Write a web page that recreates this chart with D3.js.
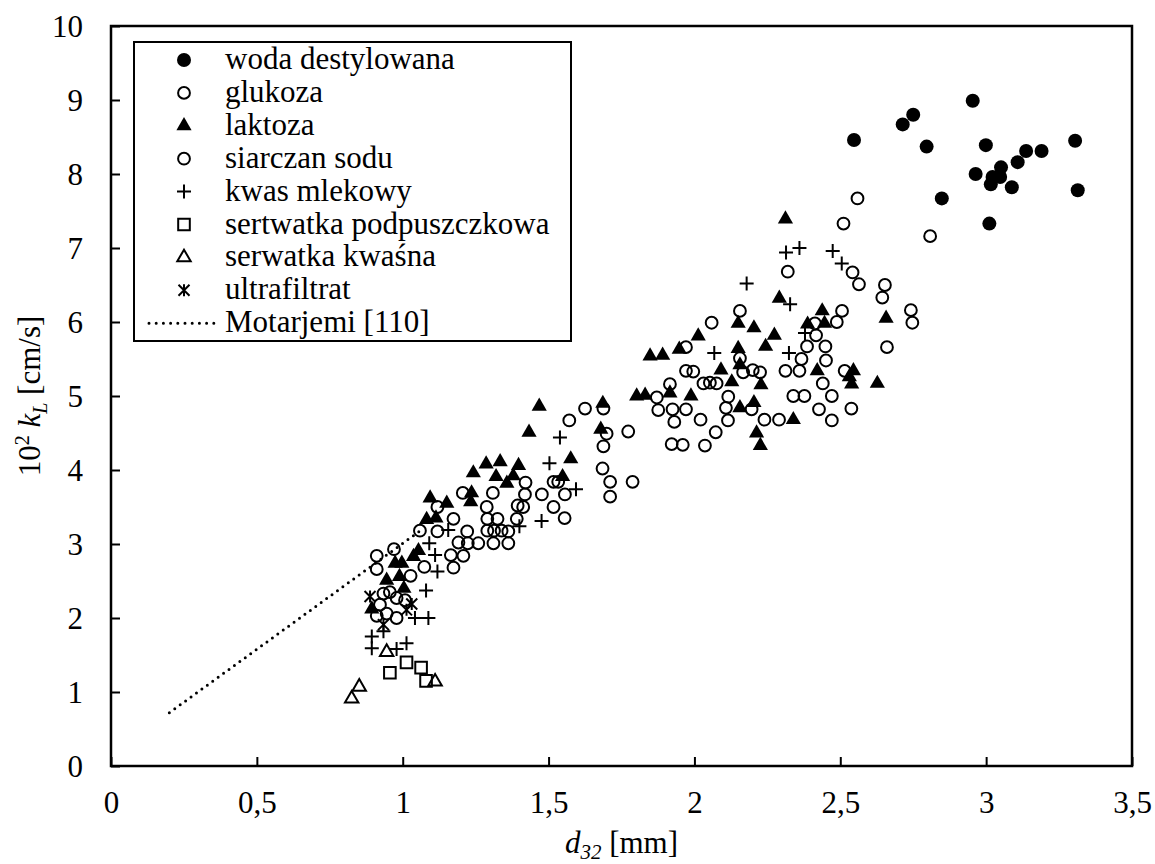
<!DOCTYPE html>
<html><head><meta charset="utf-8">
<script src="https://cdn.jsdelivr.net/npm/d3@7/dist/d3.min.js"></script>
<style>body{margin:0;background:#fff;} svg{display:block;}</style>
</head><body>
<svg id="chart" width="1155" height="864"></svg>
<script>
// ---- data ----
const xTicks = [0, 0.5, 1, 1.5, 2, 2.5, 3, 3.5];
const yTicks = [0, 1, 2, 3, 4, 5, 6, 7, 8, 9, 10];
const legendLabels = ["woda destylowana","glukoza","laktoza","siarczan sodu","kwas mlekowy","sertwatka podpuszczkowa","serwatka kwaśna","ultrafiltrat","Motarjemi [110]"];

const woda = [[2.547,8.46],[2.750,8.80],[2.714,8.67],[2.796,8.37],[2.954,8.99],[2.999,8.39],[2.964,8.00],[3.051,8.09],[3.022,7.96],[3.048,7.96],[3.016,7.86],[3.088,7.82],[3.108,8.16],[3.137,8.31],[3.190,8.31],[3.305,8.45],[3.314,7.78],[2.848,7.67],[3.011,7.33]];

const glukoza = [[1.625,4.83],[1.688,4.83],[1.571,4.67],[1.699,4.49],[1.773,4.52],[1.688,4.32],[1.685,4.02],[1.711,3.84],[1.788,3.84],[1.711,3.64],[1.517,3.84],[1.533,3.84],[1.556,3.67],[1.477,3.67],[1.517,3.50],[1.555,3.35],[1.421,3.83],[1.206,3.69],[1.309,3.69],[1.419,3.67],[1.394,3.52],[1.413,3.50],[1.288,3.50],[1.290,3.34],[1.325,3.34],[1.391,3.34],[1.290,3.18],[1.313,3.18],[1.339,3.18],[1.362,3.17],[1.221,3.17],[1.191,3.02],[1.223,3.01],[1.259,3.01],[1.311,3.01],[1.362,3.01],[1.174,3.34],[1.119,3.50],[1.059,3.18],[1.119,3.17],[1.165,2.85],[1.208,2.84],[1.174,2.68],[1.074,2.69],[0.970,2.93],[0.911,2.84],[0.911,2.66],[1.027,2.57],[0.934,2.33],[0.956,2.35],[0.979,2.27],[1.008,2.24],[0.922,2.18],[0.945,2.06],[0.911,2.03],[0.979,2.00]];

const laktoza = [[2.312,7.39],[2.291,6.32],[2.150,5.98],[2.204,5.92],[2.013,5.81],[2.274,5.82],[2.438,6.15],[2.388,5.97],[2.446,5.98],[2.657,6.05],[2.244,5.67],[2.150,5.64],[2.091,5.35],[2.156,5.42],[2.421,5.34],[2.545,5.34],[2.531,5.26],[2.539,5.16],[2.627,5.17],[2.128,5.19],[2.228,5.15],[1.988,5.00],[2.156,4.84],[2.204,4.91],[2.339,4.68],[2.213,4.50],[2.226,4.33],[1.848,5.54],[1.891,5.55],[1.948,5.63],[1.916,5.04],[1.802,5.00],[1.831,5.01],[1.468,4.86],[1.686,4.90],[1.433,4.51],[1.679,4.55],[1.576,4.15],[1.548,3.91],[1.286,4.08],[1.334,4.11],[1.397,4.06],[1.242,3.96],[1.320,3.91],[1.379,3.92],[1.357,3.82],[1.236,3.69],[1.233,3.57],[1.094,3.62],[1.151,3.55],[1.082,3.33],[1.114,3.35],[1.054,2.91],[1.037,2.83],[0.974,2.74],[0.997,2.74],[0.989,2.56],[0.945,2.51],[1.004,2.40],[0.894,2.12]];

const siarczan = [[2.559,7.67],[2.511,7.33],[2.808,7.16],[2.320,6.68],[2.542,6.67],[2.564,6.51],[2.653,6.50],[2.644,6.33],[2.742,6.16],[2.747,5.99],[2.660,5.66],[2.156,6.15],[2.059,5.99],[2.506,6.15],[2.413,5.98],[2.488,6.00],[2.417,5.82],[2.156,5.51],[1.971,5.66],[2.386,5.67],[2.449,5.67],[2.367,5.50],[2.451,5.48],[1.971,5.34],[1.996,5.33],[2.167,5.32],[2.200,5.35],[2.225,5.32],[2.312,5.34],[2.360,5.34],[2.515,5.34],[2.031,5.17],[2.053,5.18],[2.076,5.17],[2.440,5.17],[2.116,4.99],[2.339,5.00],[2.377,5.00],[2.471,5.00],[1.971,4.82],[2.108,4.84],[2.196,4.82],[2.427,4.82],[2.538,4.83],[2.021,4.68],[2.115,4.67],[2.240,4.68],[2.290,4.68],[2.471,4.67],[2.073,4.51],[1.960,4.34],[2.036,4.33],[1.916,5.16],[1.871,4.98],[1.876,4.81],[1.925,4.82],[1.931,4.65],[1.922,4.35]];

const kwas = [[2.314,6.94],[2.360,7.00],[2.474,6.96],[2.505,6.79],[2.179,6.52],[2.328,6.24],[2.379,5.85],[2.068,5.58],[2.324,5.58],[1.539,4.44],[1.503,4.09],[1.594,3.74],[1.476,3.31],[1.400,3.24],[1.156,3.19],[1.091,3.01],[1.111,2.85],[1.119,2.63],[1.080,2.37],[1.042,2.00],[1.088,2.00],[0.934,1.82],[0.894,1.75],[0.894,1.59],[0.979,1.58],[1.013,1.66]];

const sertwatka = [[0.956,1.26],[1.013,1.40],[1.063,1.33],[1.080,1.15]];
const serwatka = [[0.945,1.54],[1.111,1.14],[0.851,1.07],[0.825,0.91]];
const ultrafiltrat = [[0.888,2.29],[1.031,2.19],[1.013,2.11],[0.934,1.91]];
const motarjemi = [[0.2,0.72],[1.06,3.18]];

// ---- drawing ----
const FONT = "'Liberation Serif','Times New Roman',serif";
const svg = d3.select("#chart");
const x = d3.scaleLinear().domain([0, 3.5]).range([111, 1132]);
const y = d3.scaleLinear().domain([0, 10]).range([766, 26]);
const fmt = d => String(d).replace('.', ',');

// axes
const gx = svg.append("g").attr("transform", `translate(0,${y(0)})`)
  .call(d3.axisBottom(x).tickValues(xTicks).tickFormat(fmt).tickSizeInner(-9).tickSizeOuter(0));
gx.select(".domain").remove();
gx.selectAll(".tick line").attr("stroke", "#000").attr("stroke-width", 2);
gx.selectAll(".tick text").attr("y", 47).attr("dy", 0).attr("font-family", FONT).attr("font-size", 31).attr("fill", "#000");

const gy = svg.append("g").attr("transform", `translate(${x(0)},0)`)
  .call(d3.axisLeft(y).tickValues(yTicks).tickFormat(fmt).tickSizeInner(-9).tickSizeOuter(0));
gy.select(".domain").remove();
gy.selectAll(".tick line").attr("stroke", "#000").attr("stroke-width", 2);
gy.selectAll(".tick text").attr("x", -28).attr("dy", "0.35em").attr("font-family", FONT).attr("font-size", 31).attr("fill", "#000");

// frame
svg.append("rect").attr("x", x(0)).attr("y", y(10)).attr("width", x(3.5) - x(0)).attr("height", y(0) - y(10))
  .attr("fill", "none").attr("stroke", "#000").attr("stroke-width", 2.5);

// axis titles
const xt = svg.append("text").attr("x", (x(0) + x(3.5)) / 2).attr("y", 853).attr("text-anchor", "middle")
  .attr("font-family", FONT).attr("font-size", 31).attr("fill", "#000");
xt.append("tspan").attr("font-style", "italic").text("d");
xt.append("tspan").attr("font-style", "italic").attr("font-size", 21).attr("dy", 6).text("32");
xt.append("tspan").attr("dy", -6).text(" [mm]");

const yt = svg.append("text").attr("transform", `translate(40,${(y(0) + y(10)) / 2}) rotate(-90)`)
  .attr("text-anchor", "middle").attr("font-family", FONT).attr("font-size", 31).attr("fill", "#000");
yt.append("tspan").text("10");
yt.append("tspan").attr("font-size", 20).attr("dy", -11).text("2");
yt.append("tspan").attr("dy", 11).text(" ");
yt.append("tspan").attr("font-style", "italic").text("k");
yt.append("tspan").attr("font-style", "italic").attr("font-size", 20).attr("dy", 7).text("L");
yt.append("tspan").attr("dy", -7).text(" [cm/s]");

// marker drawers
const markers = {
  filledCircle: g => g.append("circle").attr("r", 7).attr("fill", "#000"),
  openCircle: g => g.append("circle").attr("r", 5.9).attr("fill", "none").attr("stroke", "#000").attr("stroke-width", 2),
  filledTri: g => g.append("path").attr("d", d3.symbol(d3.symbolTriangle, 100)()).attr("fill", "#000"),
  plus: g => g.append("path").attr("d", "M-7,0H7M0,-7V7").attr("stroke", "#000").attr("stroke-width", 2).attr("fill", "none"),
  square: g => g.append("path").attr("d", d3.symbol(d3.symbolSquare, 135)()).attr("fill", "none").attr("stroke", "#000").attr("stroke-width", 2),
  openTri: g => g.append("path").attr("d", d3.symbol(d3.symbolTriangle, 78)()).attr("fill", "none").attr("stroke", "#000").attr("stroke-width", 2),
  star: g => g.append("path").attr("d", "M-5.5,-5.5L5.5,5.5M-5.5,5.5L5.5,-5.5M0,-6V6").attr("stroke", "#000").attr("stroke-width", 2).attr("fill", "none")
};

const series = [
  {data: woda, m: "filledCircle"},
  {data: glukoza, m: "openCircle"},
  {data: laktoza, m: "filledTri"},
  {data: siarczan, m: "openCircle"},
  {data: kwas, m: "plus"},
  {data: sertwatka, m: "square"},
  {data: serwatka, m: "openTri"},
  {data: ultrafiltrat, m: "star"}
];

const plot = svg.append("g");
series.forEach(s => {
  plot.append("g").selectAll("g").data(s.data).enter().append("g")
    .attr("transform", d => `translate(${x(d[0])},${y(d[1])})`)
    .each(function() { markers[s.m](d3.select(this)); });
});

// Motarjemi dotted line
const line = d3.line().x(d => x(d[0])).y(d => y(d[1]));
plot.append("path").attr("d", line(motarjemi)).attr("fill", "none").attr("stroke", "#000")
  .attr("stroke-width", 3).attr("stroke-linecap", "round").attr("stroke-dasharray", "0 6.7");

// legend
const lg = svg.append("g");
lg.append("rect").attr("x", 134).attr("y", 42).attr("width", 437).attr("height", 299)
  .attr("fill", "#fff").attr("stroke", "#000").attr("stroke-width", 2);
const rowY = i => 60 + i * 32.9;
series.forEach((s, i) => {
  const g = lg.append("g").attr("transform", `translate(184,${rowY(i)})`);
  markers[s.m](g);
});
lg.append("line").attr("x1", 149).attr("x2", 214).attr("y1", rowY(8)).attr("y2", rowY(8))
  .attr("stroke", "#000").attr("stroke-width", 3).attr("stroke-linecap", "round").attr("stroke-dasharray", "0 7.2");
legendLabels.forEach((t, i) => {
  lg.append("text").attr("x", 225).attr("y", rowY(i) + 9).attr("font-family", FONT).attr("font-size", 31)
    .attr("fill", "#000").text(t);
});
</script>
</body></html>
